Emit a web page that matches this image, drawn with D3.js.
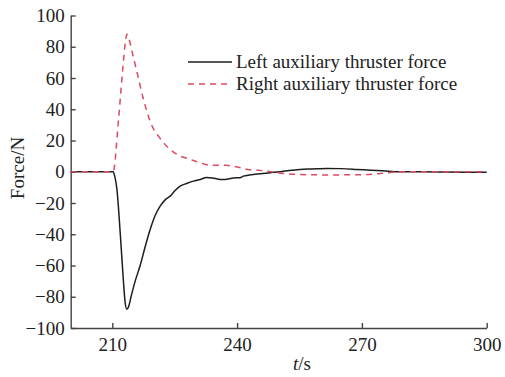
<!DOCTYPE html>
<html lang="en">
<head>
<meta charset="utf-8">
<title>thruster force</title>
<script src="https://cdn.jsdelivr.net/npm/d3@7"></script>
<style>
body { margin: 0; background: #fff; }
svg text { font-family: "Liberation Serif", "DejaVu Serif", serif; fill: #222; }
.axis path, .axis line { stroke: #444; stroke-width: 1.4px; }
.axis text { font-size: 19px; }
</style>
</head>
<body>
<div id="chart"></div>
<script>

// left auxiliary thruster force (black line)
var leftT = [200, 210.2, 210.6, 211.1, 211.9, 212.7, 213.1, 213.5, 213.9, 214.6, 215.5, 216.7, 217.9, 219.1, 220.3, 221.5, 222.7, 223.9, 225.1, 226.3, 227.9, 229.5, 231.2, 232.7, 234.5, 235.9, 237.1, 239.1, 240.7, 241.5, 243.9, 245.5, 248, 250.3, 252.5, 255.1, 258, 261.6, 265, 268.8, 272, 275, 279, 285, 290, 300];
var leftF = [0, 0, -3, -11, -39, -71, -84, -88, -86.5, -79, -70, -60, -48, -37, -28, -22, -18, -15.6, -12, -9.2, -7.5, -6, -4.9, -3.6, -4.2, -4.9, -5, -4, -3.8, -2.8, -1.7, -1.3, -0.6, 0, 0.8, 1.5, 1.8, 2.1, 2, 1.5, 1, 0.6, 0, 0, -0.2, -0.3];

// right auxiliary thruster force (red dashed)
var rightT = [200, 210.2, 211.5, 212.5, 213.2, 213.5, 214, 215, 216, 217.5, 219, 220, 221.1, 222.5, 223.9, 226, 228.7, 231.2, 233.5, 236, 237.5, 239, 241, 242.5, 245, 247.1, 250, 254.4, 260, 265, 271, 275, 279, 285, 300];
var rightF = [0, 0, 33.5, 65.5, 84, 88, 85, 74, 63, 46.3, 33, 27, 22.8, 18, 14.3, 10.5, 7.9, 5.7, 4.2, 4.2, 4.1, 3.6, 2.5, 1.5, 1, 0.4, -0.8, -1.7, -2, -2, -1.8, -1, 0, 0, 0];

var xTicks = [210, 240, 270, 300];
var yTicks = [-100, -80, -60, -40, -20, 0, 20, 40, 60, 80, 100];
var legendLabels = ["Left auxiliary thruster force", "Right auxiliary thruster force"];

var W = 505, H = 377;
var x = d3.scaleLinear().domain([200, 300]).range([70.7, 486.7]);
var y = d3.scaleLinear().domain([-100, 100]).range([328, 15.5]);

var svg = d3.select("#chart").append("svg")
    .attr("width", W)
    .attr("height", H);

// axes
svg.append("g")
    .attr("class", "axis")
    .attr("transform", "translate(0," + y(-100) + ")")
    .call(d3.axisBottom(x).tickValues(xTicks).tickSizeInner(-5).tickSizeOuter(0).tickPadding(10));

svg.append("g")
    .attr("class", "axis")
    .attr("transform", "translate(" + x(200) + ",0)")
    .call(d3.axisLeft(y).tickValues(yTicks).tickSizeInner(-5).tickSizeOuter(0).tickPadding(6)
        .tickFormat(function(d) { return d < 0 ? "\u2212" + Math.abs(d) : d; }));

svg.selectAll(".axis text").attr("fill", "#222");

// lines
var line = d3.line()
    .x(function(d) { return x(d[0]); })
    .y(function(d) { return y(d[1]); })
    .curve(d3.curveMonotoneX);

var leftData = leftT.map(function(t, i) { return [t, leftF[i]]; });
var rightData = rightT.map(function(t, i) { return [t, rightF[i]]; });

svg.append("path")
    .datum(leftData)
    .attr("d", line)
    .attr("fill", "none")
    .attr("stroke", "#1e1e1e")
    .attr("stroke-width", 1.5);

svg.append("path")
    .datum(rightData)
    .attr("d", line)
    .attr("fill", "none")
    .attr("stroke", "#dc4a5e")
    .attr("stroke-width", 1.5)
    .attr("stroke-dasharray", "6,5");

// legend
var legend = svg.selectAll(".legend")
    .data(legendLabels)
    .enter()
    .append("g")
    .attr("transform", function(d, i) { return "translate(188," + (62 + i * 22) + ")"; });

legend.append("line")
    .attr("x1", 0).attr("x2", 44)
    .attr("stroke", function(d, i) { return i == 0 ? "#1e1e1e" : "#dc4a5e"; })
    .attr("stroke-width", 1.5)
    .attr("stroke-dasharray", function(d, i) { return i == 0 ? null : "6,5"; });

legend.append("text")
    .attr("x", 48)
    .attr("y", 6)
    .style("font-size", "19px")
    .text(function(d) { return d; });

// axis titles
var xt = svg.append("text")
    .attr("x", 302)
    .attr("y", 370)
    .attr("text-anchor", "middle")
    .style("font-size", "19px");
xt.append("tspan").style("font-style", "italic").text("t");
xt.append("tspan").text("/s");

svg.append("text")
    .attr("transform", "translate(24,168) rotate(-90)")
    .attr("text-anchor", "middle")
    .style("font-size", "19px")
    .text("Force/N");

</script>
</body>
</html>
